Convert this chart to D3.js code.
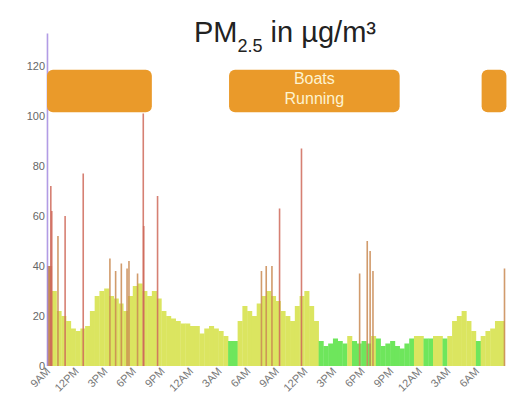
<!DOCTYPE html>
<html><head><meta charset="utf-8">
<script src="https://cdn.jsdelivr.net/npm/d3@7"></script>
<style>body{margin:0;background:#fff;font-family:"Liberation Sans",Arial,sans-serif}</style>
</head><body><svg id="c" width="524" height="412"></svg>
<script>
(function(){
  "use strict";

  // half-hour PM2.5 readings from 9AM day 1
  var base = [40,30,22,20,18,15, 14,15,16,22,28,30, 31,28,27,25,22,28, 32,33,30,28,30,27,
    22,20,19,18,17,17, 16,16,13,15,16,15, 14,12,10,10,18,24, 22,20,25,28,30,28,
    26,22,20,18,24,28, 30,24,18,10,8,9, 11,10,9,12,10,9, 10,9,12,11,8,9,
    10,8,7,9,11,12, 12,11,11,12,12,11, 12,18,20,22,18,14, 10,12,14,15,18,18];
  // short spikes: hour offset, value
  var spikeHours = [0.05,0.4,0.5,1.15,1.9,3.8,6.6,7.2,7.8,8.4,8.6,9.5,10.1,10.15,11.6,
    22.5,23.0,23.6,24.4,26.7,32.8,33.6,33.9,34.2,48.0];
  var spikeValues = [133,72,62,52,60,77,43,38,41,39,42,37,101,56,68,
    38,40,40,63,87,37,50,46,38,39];
  var boatStart = [0,19.1,45.6];
  var boatEnd = [11,37,48.2];
  var tickLabels = ["9AM","12PM","3PM","6PM","9PM","12AM","3AM","6AM",
    "9AM","12PM","3PM","6PM","9PM","12AM","3AM","6AM"];
  var yTicks = [0,20,40,60,80,100,120];

  var svg = d3.select("#c");
  var x = d3.scaleLinear().domain([0,48]).range([47,504.5]);
  var y = d3.scaleLinear().domain([0,120]).range([366,66]);

  function colour(v){
    if (v < 12) return "#6ee65c";
    if (v < 35) return "#dbe560";
    if (v < 55) return "#c98a52";
    if (v < 125) return "#cf6a5a";
    return "#a58be0";
  }

  svg.append("text").attr("x",285).attr("y",42).attr("text-anchor","middle")
    .attr("font-size",29).attr("fill","#222")
    .call(function(t){
      t.append("tspan").text("PM");
      t.append("tspan").attr("font-size",18).attr("dy",10).text("2.5");
      t.append("tspan").attr("dy",-10).text(" in µg/m³");
    });

  svg.append("g").selectAll("text").data(yTicks).join("text")
    .attr("x",45).attr("y",function(d){ return y(d)+4; })
    .attr("text-anchor","end").attr("font-size",11).attr("fill","#666")
    .text(function(d){ return d; });

  var w = x(0.5)-x(0);
  svg.append("g").selectAll("rect").data(base).join("rect")
    .attr("x",function(d,i){ return x(i*0.5); })
    .attr("width",w+0.3)
    .attr("y",function(d){ return y(d); })
    .attr("height",function(d){ return y(0)-y(d); })
    .attr("fill",function(d){ return colour(d); });

  svg.append("g").selectAll("rect").data(spikeHours).join("rect")
    .attr("x",function(d){ return x(d)-0.8; })
    .attr("width",1.6)
    .attr("y",function(d,i){ return y(spikeValues[i]); })
    .attr("height",function(d,i){ return y(0)-y(spikeValues[i]); })
    .attr("fill",function(d,i){ return colour(spikeValues[i]); })
    .attr("opacity",0.85);

  svg.append("g").selectAll("rect").data(boatStart).join("rect")
    .attr("x",function(d){ return x(d); })
    .attr("width",function(d,i){ return x(boatEnd[i])-x(d); })
    .attr("y",y(118.5)).attr("height",y(101.5)-y(118.5))
    .attr("rx",6).attr("fill","#ea9a2a");

  svg.append("text").attr("x",(x(boatStart[1])+x(boatEnd[1]))/2).attr("y",84)
    .attr("text-anchor","middle").attr("font-size",16).attr("fill","#fdf3d0")
    .selectAll("tspan").data(["Boats","Running"]).join("tspan")
    .attr("x",(x(boatStart[1])+x(boatEnd[1]))/2)
    .attr("dy",function(d,i){ return i ? 20 : 0; })
    .text(function(d){ return d; });

  svg.append("g").selectAll("text").data(tickLabels).join("text")
    .attr("transform",function(d,i){ return "translate("+(x(i*3)+4)+",372) rotate(-45)"; })
    .attr("text-anchor","end").attr("font-size",11).attr("fill","#777")
    .text(function(d){ return d; });
})();
</script></body></html>
